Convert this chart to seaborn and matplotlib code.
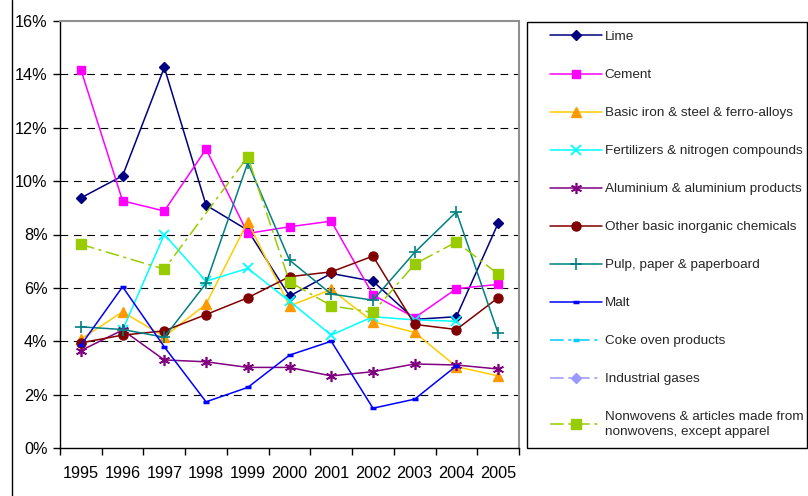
import numpy as np
import pandas as pd
import matplotlib
matplotlib.use("Agg")
import matplotlib.pyplot as plt
import seaborn as sns
from matplotlib.patches import Rectangle
from matplotlib.lines import Line2D
from matplotlib.ticker import FuncFormatter, FixedLocator

nan = np.nan
years = [1995, 1996, 1997, 1998, 1999, 2000, 2001, 2002, 2003, 2004, 2005]
lime = [9.37, 10.2, 14.26, 9.1, 8.16, 5.69, 6.54, 6.25, 4.82, 4.92, 8.42]
cement = [14.18, 9.26, 8.88, 11.2, 8.04, 8.29, 8.5, 5.74, 4.88, 5.97, 6.13]
iron = [4.08, 5.1, 4.17, 5.39, 8.48, 5.32, 5.94, 4.73, 4.33, 3.05, 2.7]
fertilizers = [nan, 4.42, 8.0, 6.25, 6.73, 5.5, 4.23, 4.92, 4.8, 4.75, nan]
aluminium = [3.65, 4.42, 3.3, 3.23, 3.02, 3.02, 2.7, 2.86, 3.15, 3.11, 2.96]
other_inorg = [3.94, 4.23, 4.39, 5.0, 5.63, 6.42, 6.6, 7.19, 4.63, 4.44, 5.63]
pulp = [4.54, 4.44, 4.15, 6.17, 10.69, 7.04, 5.77, 5.54, 7.33, 8.85, 4.3]
malt = [3.85, 6.04, 3.79, 1.73, 2.27, 3.48, 4.0, 1.49, 1.83, 3.08, nan]
coke = [nan] * 11
gases = [nan] * 11
nonwovens = [7.63, nan, 6.7, nan, 10.91, 6.23, 5.33, 5.08, 6.89, 7.72, 6.52]

labels = ["Lime", "Cement", "Basic iron & steel & ferro-alloys",
          "Fertilizers & nitrogen compounds", "Aluminium & aluminium products",
          "Other basic inorganic chemicals", "Pulp, paper & paperboard", "Malt",
          "Coke oven products", "Industrial gases",
          "Nonwovens & articles made from\nnonwovens, except apparel"]
values = [lime, cement, iron, fertilizers, aluminium, other_inorg, pulp, malt,
          coke, gases, nonwovens]

solid = "-"
dashdot = (0, (9, 3, 2, 3))
asterisk = (6, 2, 0)
styles = [
    dict(color="#000080", marker="D", ms=5.5, mfc="#000080", mec="#000080", ls=solid, mew=1),
    dict(color="#FF00FF", marker="s", ms=6, mfc="#FF00FF", mec="#FF00FF", ls=solid, mew=1),
    dict(color="#FFCC00", marker="^", ms=7, mfc="#FF9900", mec="#FF9900", ls=solid, mew=1),
    dict(color="#00FFFF", marker="x", ms=7, mfc="#00FFFF", mec="#00FFFF", ls=solid, mew=1.3),
    dict(color="#800080", marker=asterisk, ms=8, mfc="#800080", mec="#800080", ls=solid, mew=1.2),
    dict(color="#800000", marker="o", ms=6.5, mfc="#800000", mec="#800000", ls=solid, mew=1),
    dict(color="#008080", marker="+", ms=8, mfc="#008080", mec="#008080", ls=solid, mew=1.2),
    dict(color="#0000FF", marker="_", ms=4, mfc="#0000FF", mec="#0000FF", ls=solid, mew=2.5),
    dict(color="#00CCFF", marker="_", ms=4, mfc="#00CCFF", mec="#00CCFF", ls=dashdot, mew=2.5),
    dict(color="#9999FF", marker="D", ms=5.5, mfc="#9999FF", mec="#9999FF", ls=dashdot, mew=1),
    dict(color="#99CC00", marker="s", ms=6.5, mfc="#99CC00", mec="#99CC00", ls=dashdot, mew=1),
]

sns.set_theme(style="white")
plt.rcParams["font.family"] = ["Liberation Sans", "DejaVu Sans"]

fig = plt.figure(figsize=(8.08, 4.96), dpi=100)
W, H = 808, 496
ax = fig.add_axes([60 / W, 1 - 448 / H, (519 - 60) / W, (448 - 21) / H])

for lab, vals, st in zip(labels, values, styles):
    df = pd.DataFrame({"year": years, "value": vals}).dropna()
    if len(df):
        sns.lineplot(data=df, x="year", y="value", ax=ax, estimator=None,
                     color=st["color"], marker=st["marker"], markersize=st["ms"],
                     markerfacecolor=st["mfc"], markeredgecolor=st["mec"],
                     markeredgewidth=st["mew"], linestyle=st["ls"], linewidth=1.1,
                     label=lab, legend=False)
    else:
        ax.plot([], [], color=st["color"], marker=st["marker"], markersize=st["ms"],
                markerfacecolor=st["mfc"], markeredgecolor=st["mec"],
                markeredgewidth=st["mew"], linestyle=st["ls"], linewidth=1.1, label=lab)

ax.set_xlim(1994.5, 2005.5)
ax.set_ylim(0, 16)
ax.set_xlabel("")
ax.set_ylabel("")
ax.set_yticks(np.arange(0, 17, 2))
ax.yaxis.set_major_formatter(FuncFormatter(lambda v, p: f"{v:.0f}%"))
ax.set_xticks(years)
ax.set_xticklabels([str(y) for y in years])
ax.xaxis.set_minor_locator(FixedLocator(np.arange(1994.5, 2006, 1)))
ax.tick_params(axis="x", which="major", length=0, pad=13, labelsize=11.7, colors="black")
ax.tick_params(axis="x", which="minor", length=5, width=1, direction="out", bottom=True, color="black")
ax.tick_params(axis="y", which="major", length=5, width=1, direction="out", left=True,
               pad=4, labelsize=11.7, colors="black")

for y in range(2, 16, 2):
    ax.axhline(y, color="black", lw=0.8, ls=(0, (7, 5)), zorder=0)

for s in ["left", "bottom"]:
    ax.spines[s].set_color("black")
    ax.spines[s].set_linewidth(1)
for s in ["top", "right"]:
    ax.spines[s].set_color("#909090")
    ax.spines[s].set_linewidth(1.5)
ax.set_facecolor("white")

# legend frame
fig.patches.append(Rectangle((527 / W, 1 - 448 / H), (807 - 527) / W, (448 - 22) / H,
                             transform=fig.transFigure, fill=False, edgecolor="black",
                             linewidth=1, zorder=5))
# outer chart border on left
fig.lines.append(Line2D([12 / W, 12 / W], [0, 1], transform=fig.transFigure,
                        color="black", linewidth=1))

handles, labs = ax.get_legend_handles_labels()
leg = fig.legend(handles, labs, loc="upper left", bbox_to_anchor=(541 / W, 1 - 22 / H),
                 frameon=False, prop={"family": ["Liberation Sans", "DejaVu Sans"], "size": 9.7},
                 handlelength=3.85, handletextpad=0.22,
                 labelspacing=1.9, borderaxespad=0, borderpad=0.65)
for t in leg.get_texts():
    t.set_linespacing(1.35)

fig.savefig("out.png", dpi=100, facecolor="white")
